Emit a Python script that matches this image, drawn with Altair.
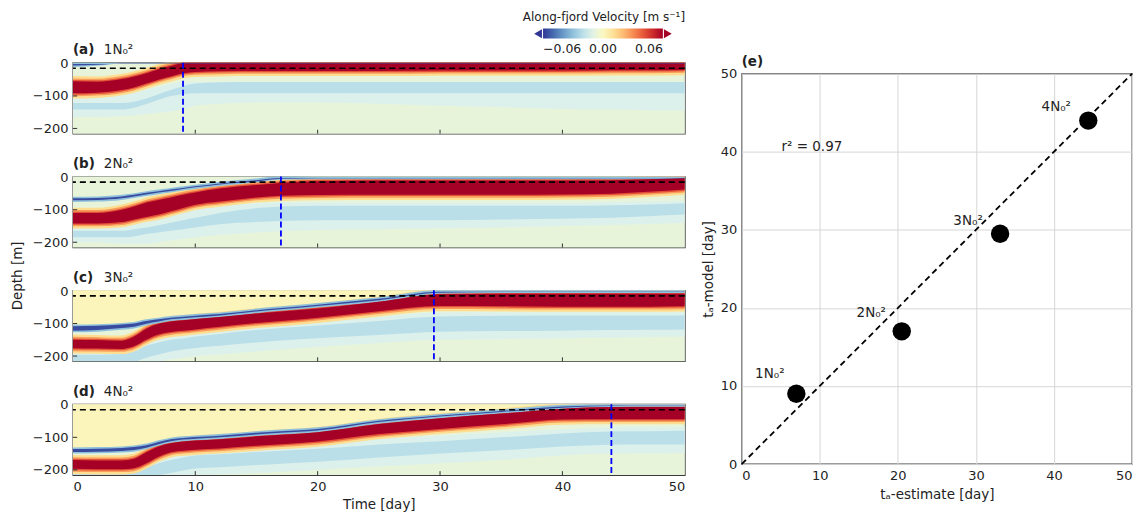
import altair as alt
import pandas as pd

# ---------------- data ----------------
TIME = [0, 2, 4, 5, 6, 7, 8, 9, 10, 12, 15, 17, 20, 25, 30, 35, 40, 44, 47, 50]

PANEL_TAGS = ["(a)", "(b)", "(c)", "(d)"]
PANEL_NAMES = ["1N₀²", "2N₀²", "3N₀²", "4N₀²"]
ARRIVAL_DAY = [9.0, 17.0, 29.5, 44.0]
SILL_DEPTH = -15
BOTTOM_DEPTH = -216

# panel (a) 1N0^2 : depth [m] of edges of the features
A_CORE_TOP = [-55, -56, -48, -40, -30, -18, -8, 2, 6, 6, 6, 6, 6, 6, 6, 6, 6, 6, 6, 6]
A_CORE_BOT = [-92, -90, -82, -74, -62, -50, -40, -30, -26, -24, -23, -23, -23, -23, -22, -22, -22, -21, -21, -20]
A_BLUE_TOP = [0, 0, 0, 0, 0, 0, 0, 0, 0, 0, 0, 0, 0, 0, 0, 0, 0, 0, 0, 0]
A_BLUE_BOT = [-8, -4, 0, 0, 0, 0, 0, 0, 0, 0, 0, 0, 0, 0, 0, 0, 0, 0, 0, 0]
A_MED_TOP = [-122, -122, -122, -118, -108, -95, -82, -70, -62, -58, -57, -57, -57, -57, -57, -57, -57, -57, -57, -57]
A_MED_BOT = [-142, -142, -142, -136, -125, -112, -100, -95, -92, -92, -92, -92, -92, -92, -92, -92, -92, -92, -92, -92]
A_PALE_TOP = [-100, -100, -96, -90, -82, -72, -64, -58, -56, -56, -56, -56, -56, -56, -56, -56, -56, -56, -56, -56]
A_PALE_BOT = [-165, -165, -162, -160, -156, -152, -148, -140, -130, -124, -120, -120, -120, -124, -130, -135, -140, -142, -144, -145]

# panel (b) 2N0^2
B_CORE_TOP = [-110, -110, -100, -90, -78, -70, -62, -54, -47, -35, -24, -18, -12, -10, -10, -10, -10, -9, -6, -2]
B_CORE_BOT = [-142, -142, -138, -130, -122, -115, -105, -95, -85, -75, -62, -57, -55, -54, -54, -54, -53, -51, -45, -38]
B_BLUE_TOP = [-63, -62, -57, -52, -46, -41, -36, -31, -26, -17, -7, 0, 0, 0, 0, 0, 0, 0, 0, 0]
B_BLUE_BOT = [-73, -72, -67, -61, -55, -49, -44, -38, -33, -24, -13, -5, -3, -3, -3, -3, -3, -3, -3, -3]
B_MED_TOP = [-165, -165, -165, -160, -155, -148, -140, -132, -125, -110, -95, -90, -88, -88, -88, -88, -88, -86, -84, -80]
B_MED_BOT = [-185, -185, -185, -182, -175, -170, -165, -160, -155, -145, -138, -135, -132, -132, -132, -130, -128, -125, -120, -115]
B_PALE_TOP = [-150, -150, -150, -145, -135, -125, -115, -108, -100, -90, -80, -78, -78, -78, -78, -78, -78, -76, -74, -72]
B_PALE_BOT = [-200, -200, -205, -205, -205, -200, -195, -190, -185, -178, -170, -166, -162, -160, -158, -155, -150, -147, -144, -140]

# panel (c) 3N0^2
C_CORE_TOP = [-150, -151, -153, -140, -116, -101, -94, -90, -86, -80, -69, -63, -54, -33, -10, -8, -8, -8, -8, -8]
C_CORE_BOT = [-176, -177, -178, -170, -150, -134, -126, -122, -118, -110, -98, -92, -82, -62, -46, -47, -48, -48, -48, -47]
C_BLUE_TOP = [-106, -105, -101, -98, -90, -85, -80, -77, -74, -69, -57, -50, -40, -22, 0, 0, 0, 0, 0, 0]
C_BLUE_BOT = [-124, -122, -116, -112, -103, -96, -89, -86, -83, -77, -65, -58, -48, -30, -5, -3, -3, -3, -3, -3]
C_MED_TOP = [-196, -196, -194, -186, -168, -158, -150, -146, -140, -132, -120, -114, -106, -92, -78, -76, -75, -75, -75, -75]
C_MED_BOT = [-216, -216, -216, -216, -205, -195, -186, -180, -175, -168, -158, -152, -145, -135, -125, -123, -122, -120, -119, -118]
C_PALE_TOP = [-185, -186, -188, -178, -160, -150, -140, -134, -128, -120, -110, -104, -96, -80, -66, -65, -65, -65, -65, -65]
C_PALE_BOT = [-216, -216, -216, -216, -216, -216, -210, -205, -200, -195, -186, -180, -172, -160, -150, -148, -146, -144, -142, -140]

# panel (d) 4N0^2
D_CORE_TOP = [-170, -171, -171, -166, -146, -128, -118, -113, -110, -106, -97, -92, -84, -59, -41, -27, -12, -7, -7, -7]
D_CORE_BOT = [-197, -198, -198, -195, -180, -160, -146, -141, -138, -134, -126, -121, -113, -90, -74, -60, -45, -44, -44, -44]
D_BLUE_TOP = [-134, -133, -131, -128, -122, -112, -104, -100, -97, -93, -84, -79, -72, -47, -31, -17, -3, 0, 0, 0]
D_BLUE_BOT = [-147, -146, -144, -141, -134, -123, -114, -109, -106, -102, -93, -88, -81, -55, -38, -24, -9, -4, -3, -3]
D_MED_TOP = [-204, -204, -204, -200, -192, -180, -170, -162, -156, -152, -145, -141, -135, -122, -112, -100, -88, -82, -81, -80]
D_MED_BOT = [-216, -216, -216, -216, -216, -216, -210, -202, -196, -192, -185, -181, -175, -162, -150, -140, -128, -123, -122, -122]
D_PALE_TOP = [-196, -196, -196, -192, -180, -165, -155, -148, -140, -136, -130, -126, -118, -105, -95, -85, -75, -70, -69, -68]
D_PALE_BOT = [-216, -216, -216, -216, -216, -216, -216, -216, -216, -214, -210, -206, -200, -190, -180, -170, -155, -150, -149, -148]

# velocity [m/s] of each contour band
BAND_VELOCITY = {
    "background": -0.007, "upper": 0.0015, "pale": -0.012, "medium": -0.02,
    "halo3": 0.012, "halo2": 0.027, "halo1": 0.042, "core": 0.07,
    "bluehalo": -0.03, "blue": -0.056,
}

# panel (e)
TA_ESTIMATE = [7.0, 20.5, 33.1, 44.4]
TA_MODEL = [9.0, 17.0, 29.5, 44.0]
POINT_LABELS = ["1N₀²", "2N₀²", "3N₀²", "4N₀²"]
LABEL_X = [3.6, 16.6, 29.0, 40.3]
LABEL_Y = [11.6, 19.3, 31.2, 45.8]
R2_TEXT = ["r² = 0.97"]
R2_X = [5.1]
R2_Y = [40.6]

# ---------------- build tables ----------------
PANEL_ARRAYS = [
    (A_CORE_TOP, A_CORE_BOT, A_BLUE_TOP, A_BLUE_BOT, A_MED_TOP, A_MED_BOT, A_PALE_TOP, A_PALE_BOT, False),
    (B_CORE_TOP, B_CORE_BOT, B_BLUE_TOP, B_BLUE_BOT, B_MED_TOP, B_MED_BOT, B_PALE_TOP, B_PALE_BOT, False),
    (C_CORE_TOP, C_CORE_BOT, C_BLUE_TOP, C_BLUE_BOT, C_MED_TOP, C_MED_BOT, C_PALE_TOP, C_PALE_BOT, True),
    (D_CORE_TOP, D_CORE_BOT, D_BLUE_TOP, D_BLUE_BOT, D_MED_TOP, D_MED_BOT, D_PALE_TOP, D_PALE_BOT, True),
]
HALO = {"halo3": 16, "halo2": 9, "halo1": 4}
BAND_ORDER = ["upper", "pale", "medium", "halo3", "halo2", "halo1", "bluehalo", "core", "blue"]

rows = []
for p, (ct, cb, bt, bb, mt, mb, pt, pb, has_upper) in enumerate(PANEL_ARRAYS):
    for j, t in enumerate(TIME):
        def add(band, top, bot):
            rows.append({"panel": p, "band": band, "t": t, "top": top, "bot": bot,
                         "v": BAND_VELOCITY[band]})
        if has_upper:
            add("upper", 3, bt[j])
        add("pale", pt[j], pb[j])
        add("medium", mt[j], mb[j])
        for h, w in HALO.items():
            add(h, ct[j] + w, cb[j] - w)
        if bt[j] > bb[j]:
            add("bluehalo", bt[j] + 3, bb[j] - 3)
        else:
            add("bluehalo", bt[j], bb[j])
        add("core", ct[j], cb[j])
        add("blue", bt[j] - 2, bb[j] + 2 if bt[j] - bb[j] > 6 else bb[j])
bands = pd.DataFrame(rows)

TXT = "#222222"
VSCALE = alt.Scale(scheme="redyellowblue", reverse=True, domain=[-0.06, 0.06], clamp=True)
LEGEND = alt.Legend(orient="none", legendX=471, legendY=-34, direction="horizontal",
                    gradientLength=120, gradientThickness=10, values=[-0.06, 0, 0.06],
                    format=".2f", labelFontSize=12.5, labelOffset=5, labelAlign="center",
                    labelColor=TXT, padding=0, gradientStrokeWidth=0)
COLOR = alt.Color("v:Q", scale=VSCALE, legend=LEGEND, title=None)

XS = alt.Scale(domain=[0, 50], nice=False, zero=False)
YS = alt.Scale(domain=[BOTTOM_DEPTH, 2], nice=False, zero=False)
ONE = pd.DataFrame({"k": [0]})


def panel_chart(p):
    if p == 3:
        x_axis = alt.Axis(values=[0, 10, 20, 30, 40, 50], ticks=False, domain=False, grid=False,
                          labelFontSize=13, labelPadding=5, title="Time [day]", titleFontSize=13.5,
                          titleFontWeight="normal", titlePadding=5)
    else:
        x_axis = None
    if p == 1:
        y_axis = alt.Axis(values=[0, -100, -200], ticks=False, domain=False, grid=False,
                          labelFontSize=13, labelPadding=5, title="Depth [m]", titleFontSize=13.5,
                          titleFontWeight="normal", titleX=-48, titleY=99, titleAngle=270)
    else:
        y_axis = alt.Axis(values=[0, -100, -200], ticks=False, domain=False, grid=False,
                          labelFontSize=13, labelPadding=5, title=None)

    def X(field):
        return alt.X(field, scale=XS, axis=x_axis)

    def Y(field):
        return alt.Y(field, scale=YS, axis=y_axis)

    bg = pd.DataFrame({"t0": [0], "t1": [50], "d0": [BOTTOM_DEPTH], "d1": [2],
                       "v": [BAND_VELOCITY["background"]]})
    layers = [
        alt.Chart(bg).mark_rect().encode(
            x=X("t0:Q"), x2="t1:Q", y=Y("d0:Q"), y2="d1:Q", color=COLOR)
    ]
    for b in BAND_ORDER:
        layers.append(
            alt.Chart(bands).transform_filter(
                (alt.datum.panel == p) & (alt.datum.band == b)
            ).mark_area(interpolate="monotone", clip=True).encode(
                x=X("t:Q"), y=Y("top:Q"), y2="bot:Q", color=COLOR)
        )
    layers.append(
        alt.Chart(pd.DataFrame({"d": [SILL_DEPTH]})).mark_rule(
            color="black", strokeDash=[6, 4], strokeWidth=1.6).encode(y=Y("d:Q")))
    layers.append(
        alt.Chart(pd.DataFrame({"t": [ARRIVAL_DAY[p]]})).mark_rule(
            color="#0000ff", strokeDash=[6, 3], strokeWidth=1.8).encode(x=X("t:Q")))
    # inward ticks
    xt = pd.DataFrame({"t": [10, 20, 30, 40]})
    xt["d0"] = BOTTOM_DEPTH
    xt["d1"] = BOTTOM_DEPTH + 12
    layers.append(
        alt.Chart(xt).mark_rule(color="#333", strokeWidth=1).encode(
            x=X("t:Q"), y=Y("d0:Q"), y2="d1:Q"))
    yt = pd.DataFrame({"d": [-100, -200]})
    yt["t0"] = 0
    yt["t1"] = 0.35
    layers.append(
        alt.Chart(yt).mark_rule(color="#333", strokeWidth=1).encode(
            y=Y("d:Q"), x=X("t0:Q"), x2="t1:Q"))
    # panel labels
    layers.append(
        alt.Chart(ONE).mark_text(text=PANEL_TAGS[p], align="left", baseline="alphabetic",
                                 fontWeight="bold", fontSize=13.5, color=TXT).encode(
            x=alt.value(0), y=alt.value(-8.5)))
    layers.append(
        alt.Chart(ONE).mark_text(text=PANEL_NAMES[p], align="left", baseline="alphabetic",
                                 fontSize=13.5, color=TXT).encode(
            x=alt.value(31), y=alt.value(-8.5)))
    if p == 0:
        layers.append(
            alt.Chart(ONE).mark_text(text="Along-fjord Velocity [m s⁻¹]", align="center",
                                     baseline="alphabetic", fontSize=12, color=TXT).encode(
                x=alt.value(532), y=alt.value(-41.5)))
        layers.append(
            alt.Chart(ONE).mark_point(shape="triangle-left", filled=True, size=80,
                                      color="#313695", opacity=1).encode(
                x=alt.value(466), y=alt.value(-29)))
        layers.append(
            alt.Chart(ONE).mark_point(shape="triangle-right", filled=True, size=80,
                                      color="#a50026", opacity=1).encode(
                x=alt.value(596), y=alt.value(-29)))
    return alt.layer(*layers).properties(width=613, height=71)


left = alt.vconcat(*[panel_chart(p) for p in range(4)], spacing=43, bounds="flush")

# ---------------- panel (e) ----------------
ES = alt.Scale(domain=[0, 50], nice=False, zero=False)
ex_axis = alt.Axis(values=[0, 10, 20, 30, 40, 50], grid=True, gridColor="#d6d6d6", ticks=False,
                   domain=False, labelFontSize=13, labelPadding=5, title="tₐ-estimate [day]",
                   titleFontSize=13.5, titleFontWeight="normal", titlePadding=5)
ey_axis = alt.Axis(values=[0, 10, 20, 30, 40, 50], grid=True, gridColor="#d6d6d6", ticks=False,
                   domain=False, labelFontSize=13, labelPadding=5, title="tₐ-model [day]",
                   titleFontSize=13.5, titleFontWeight="normal", titlePadding=5)


def EX(field):
    return alt.X(field, scale=ES, axis=ex_axis)


def EY(field):
    return alt.Y(field, scale=ES, axis=ey_axis)


pts = pd.DataFrame({"est": TA_ESTIMATE, "model": TA_MODEL, "label": POINT_LABELS,
                    "lx": LABEL_X, "ly": LABEL_Y})
one_to_one = pd.DataFrame({"a": [0, 50]})
r2 = pd.DataFrame({"txt": R2_TEXT, "x": R2_X, "y": R2_Y})

diag = alt.Chart(one_to_one).mark_line(color="black", strokeDash=[6, 4], strokeWidth=1.8).encode(
    x=EX("a:Q"), y=EY("a:Q"))
dots = alt.Chart(pts).mark_circle(size=340, color="black", opacity=1).encode(
    x=EX("est:Q"), y=EY("model:Q"))
labels = alt.Chart(pts).mark_text(fontSize=13.5, color=TXT, align="center", baseline="middle").encode(
    x=EX("lx:Q"), y=EY("ly:Q"), text="label:N")
r2_text = alt.Chart(r2).mark_text(fontSize=13.5, color=TXT, align="left", baseline="middle").encode(
    x=EX("x:Q"), y=EY("y:Q"), text="txt:N")
e_tag = alt.Chart(ONE).mark_text(text="(e)", align="left", baseline="alphabetic", fontWeight="bold",
                                 fontSize=13.5, color=TXT).encode(x=alt.value(0), y=alt.value(-8))

right = alt.layer(diag, dots, labels, r2_text, e_tag).properties(width=391, height=391)

chart = alt.hconcat(left, right, spacing=13, center=True).properties(
    padding={"left": 2, "top": 2, "right": 2, "bottom": 2}
).configure(font="DejaVu Sans").configure_axis(
    labelColor=TXT, titleColor=TXT
).configure_view(stroke="#3a3a3a", strokeWidth=1.3)

chart.save("out.html", embed_options={"renderer": "svg", "actions": False})
